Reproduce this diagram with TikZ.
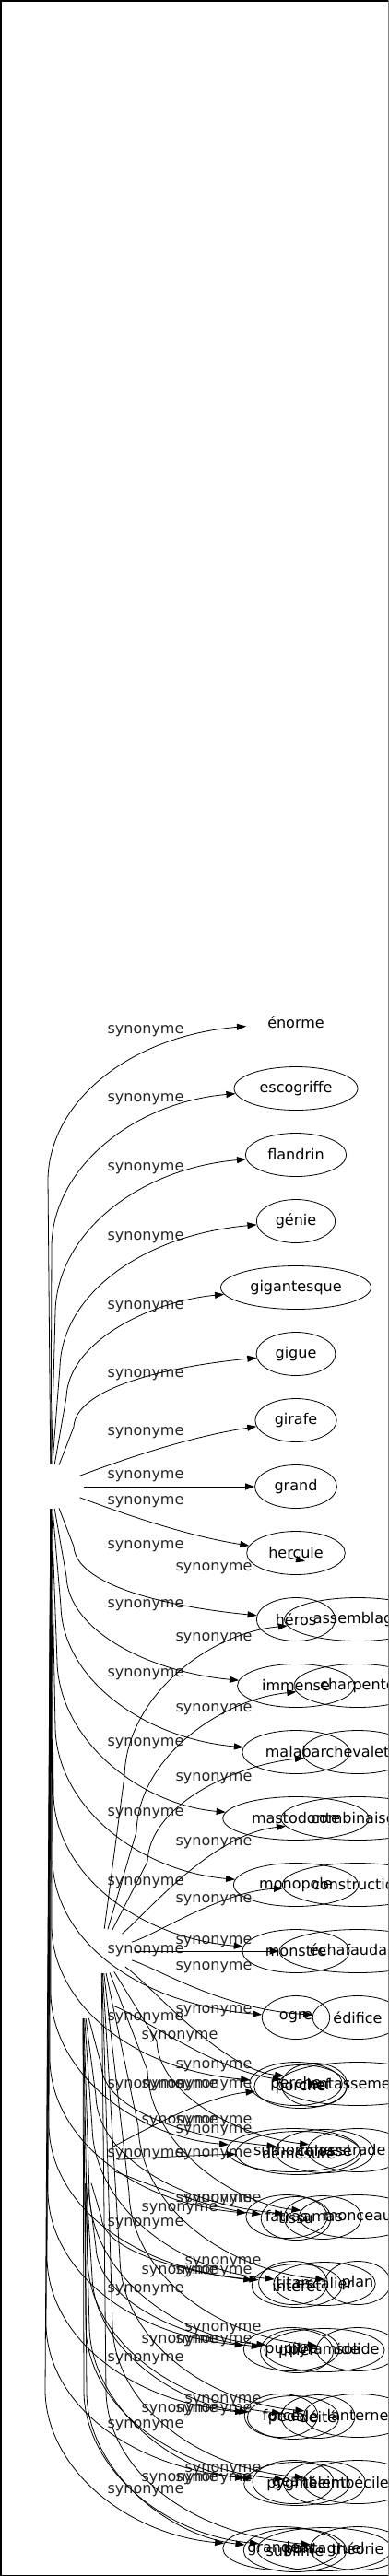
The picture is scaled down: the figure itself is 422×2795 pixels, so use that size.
\documentclass[tikz,border=0pt]{standalone}
\usepackage{fontspec}
\setmainfont{DejaVu Sans}
\usetikzlibrary{arrows.meta,shapes.geometric}
\tikzset{
  wd/.style={ellipse, draw, line width=0.8pt, inner xsep=8pt, inner ysep=0pt, minimum height=47pt, font=\fontsize{16}{19}\selectfont},
  nb/.style={ellipse, inner xsep=8pt, inner ysep=0pt, minimum height=47pt, font=\fontsize{16}{19}\selectfont},
  rootn/.style={ellipse, inner sep=0pt, minimum width=72pt, minimum height=48pt},
  syn/.style={inner sep=0pt, font=\fontsize{16}{19}\selectfont, text=black!85},
  arr/.style={-{Triangle[length=10pt,width=7pt]}, line width=0.8pt},
}
\newcommand\faredge[5]{%
  \pgfmathsetmacro\sg{2*(#5>#4)-1}%
  \pgfmathsetmacro\hh{min(0.55*abs(#5-#4),170)}%
  \pgfmathsetmacro\yb{#5-\sg*\hh}%
  \pgfmathsetmacro\yc{#5-\sg*\hh*0.5}%
  \pgfmathsetmacro\yd{#5-\sg*15}%
  \pgfmathsetmacro\xc{#3+2}%
  \pgfmathsetmacro\xd{#3+90}%
  \draw[arr] (#1) -- (#3,\yb) .. controls (\xc,\yc) and (\xd,\yd) .. (#2);%
}
\newcommand\nearedge[4]{\draw[arr] (#1) .. controls (#3) and (#4) .. (#2);}
\begin{document}
\begin{tikzpicture}[x=1pt,y=-1pt]
\useasboundingbox (0,0) rectangle (422,2795);
\begin{scope}
\clip (0,0) rectangle (422,2795);
% roots (no label shown)
\node[rootn] (A) at (55,1613) {};
\node[rootn] (B) at (110,2117) {};
\node[rootn] (C) at (90,2166) {};
\node[rootn] (D) at (92,2345) {};
% column 1
\node[nb] (c1-0) at (321,1109) {énorme};
\node[wd] (c1-1) at (321,1181) {escogriffe};
\node[wd] (c1-2) at (321,1253) {flandrin};
\node[wd] (c1-3) at (321,1325) {génie};
\node[wd] (c1-4) at (321,1397) {gigantesque};
\node[wd] (c1-5) at (321,1469) {gigue};
\node[wd] (c1-6) at (321,1541) {girafe};
\node[wd] (c1-7) at (321,1613) {grand};
\node[wd] (c1-8) at (321,1685) {hercule};
\node[wd] (c1-9) at (321,1757) {héros};
\node[wd] (c1-10) at (321,1829) {immense};
\node[wd] (c1-11) at (321,1901) {malabar};
\node[wd] (c1-12) at (321,1973) {mastodonte};
\node[wd] (c1-13) at (321,2045) {monopole};
\node[wd] (c1-14) at (321,2117) {monstre};
\node[wd] (c1-15) at (321,2189) {ogre};
\node[wd] (c1-16) at (321,2261) {perche};
\node[wd] (c1-17) at (318,2333) {surhomme};
\node[wd] (c1-18) at (311,2405) {fatras};
\node[wd] (c1-19) at (318,2477) {titan};
\node[wd] (c1-20) at (316,2549) {pupitre};
\node[wd] (c1-21) at (305,2621) {force};
\node[wd] (c1-22) at (318,2693) {géant};
\node[wd] (c1-23) at (305,2765) {grandeur};
% second layer in column 1
\node[wd] (c1b-16) at (326,2264) {porche};
\node[wd] (c1b-17) at (324,2336) {démesuré};
\node[wd] (c1b-18) at (321,2407) {tissu};
\node[wd] (c1b-19) at (322,2480) {intérêt};
\node[wd] (c1b-20) at (322,2551) {pilier};
\node[wd] (c1b-21) at (318,2623) {pédale};
\node[wd] (c1b-22) at (322,2695) {pygmée};
\node[wd] (c1b-23) at (320,2767) {sublime};
% middle nodes
\node[wd] (m-16) at (341,2262) {chef};
\node[wd] (m-17) at (352,2334) {colosse};
\node[wd] (m-18) at (350,2406) {amas};
\node[wd] (m-19) at (352,2478) {escalier};
\node[wd] (m-20) at (352,2550) {pyramide};
\node[wd] (m-21) at (345,2622) {déité};
\node[wd] (m-22) at (352,2694) {talent};
\node[wd] (m-23) at (352,2766) {pantagruel};
% column 2
\node[wd] (c2-9) at (388,1757) {assemblage};
\node[wd] (c2-10) at (388,1829) {charpente};
\node[wd] (c2-11) at (388,1901) {chevalet};
\node[wd] (c2-12) at (388,1973) {combinaison};
\node[wd] (c2-13) at (388,2045) {construction};
\node[wd] (c2-14) at (388,2117) {échafaudage};
\node[wd] (c2-15) at (388,2189) {édifice};
\node[wd] (c2-16) at (388,2261) {entassement};
\node[wd] (c2-17) at (388,2333) {estrade};
\node[wd] (c2-18) at (388,2405) {monceau};
\node[wd] (c2-19) at (388,2477) {plan};
\node[wd] (c2-20) at (388,2549) {solide};
\node[wd] (c2-21) at (388,2621) {lanterne};
\node[wd] (c2-22) at (388,2693) {imbécile};
\node[wd] (c2-23) at (388,2765) {théorie};
% labels
\foreach \yy [count=\k] in {1119,1193,1268,1343,1418,1492,1555,1602,1630,1678,1742,1817,1892,1968,2043,2117,2190,2263,2338,2413,2485,2560,2632,2703}
  \node[syn] (lA\k) at (158,\yy) {synonyme};
\foreach \yy [count=\k] in {1702,1778,1855,1930,2000,2062,2107,2135,2182,2242,2312,2387,2465,2540,2615,2690}
  \node[syn] (lB\k) at (232,\yy) {synonyme};
\foreach \yy [count=\k] in {2210,2263,2302,2397,2465,2540,2615,2690}
  \node[syn] (lC\k) at (195,\yy) {synonyme};
\foreach \yy/\xx [count=\k] in {2263/232,2302/232,2338/232,2387/242,2455/242,2527/242,2605/242,2680/242}
  \node[syn] (lD\k) at (\xx,\yy) {synonyme};
% edges of A
\faredge{A}{c1-0}{52}{1613}{1109}
\faredge{A}{c1-1}{56}{1613}{1181}
\faredge{A}{c1-2}{60}{1613}{1253}
\faredge{A}{c1-3}{65}{1613}{1325}
\faredge{A}{c1-4}{72}{1613}{1397}
\faredge{A}{c1-5}{80}{1613}{1469}
\nearedge{A}{c1-6}{130,1585}{200,1560}
\draw[arr] (A) -- (c1-7);
\nearedge{A}{c1-8}{130,1641}{200,1666}
\faredge{A}{c1-9}{80}{1613}{1757}
\faredge{A}{c1-10}{72}{1613}{1829}
\faredge{A}{c1-11}{66}{1613}{1901}
\faredge{A}{c1-12}{62}{1613}{1973}
\faredge{A}{c1-13}{60}{1613}{2045}
\faredge{A}{c1-14}{58}{1613}{2117}
\faredge{A}{c1-15}{57}{1613}{2189}
\faredge{A}{c1-16}{56}{1613}{2261}
\faredge{A}{c1-17}{55}{1613}{2333}
\faredge{A}{c1-18}{54}{1613}{2405}
\faredge{A}{c1-19}{53}{1613}{2477}
\faredge{A}{c1-20}{52}{1613}{2549}
\faredge{A}{c1-21}{51}{1613}{2621}
\faredge{A}{c1-22}{50}{1613}{2693}
\faredge{A}{c1-23}{49}{1613}{2765}
% edges of B
\coordinate (ph1) at (314,1690);
\coordinate (ph2) at (331,1694);
\draw[arr] (ph1) -- (ph2);
\faredge{B}{c2-9}{135}{2117}{1757}
\faredge{B}{c2-10}{148}{2117}{1829}
\faredge{B}{c2-11}{160}{2117}{1901}
\nearedge{B}{c2-12}{160,2075}{230,1990}
\nearedge{B}{c2-13}{170,2099}{240,2052}
\draw[arr] (B) -- (c2-14);
\nearedge{B}{c2-15}{170,2135}{240,2180}
\nearedge{B}{c2-16}{160,2150}{240,2245}
\faredge{B}{c2-17}{170}{2117}{2333}
\faredge{B}{c2-18}{160}{2117}{2405}
\faredge{B}{c2-19}{150}{2117}{2477}
\faredge{B}{c2-20}{140}{2117}{2549}
\faredge{B}{c2-21}{130}{2117}{2621}
\faredge{B}{c2-22}{122}{2117}{2693}
\faredge{B}{c2-23}{115}{2117}{2765}
% edges of C
\nearedge{C}{m-16}{150,2185}{230,2245}
\faredge{C}{m-17}{110}{2166}{2334}
\faredge{C}{m-18}{104}{2166}{2406}
\faredge{C}{m-19}{100}{2166}{2478}
\faredge{C}{m-20}{97}{2166}{2550}
\faredge{C}{m-21}{95}{2166}{2622}
\faredge{C}{m-22}{93}{2166}{2694}
\faredge{C}{m-23}{91}{2166}{2766}
% edges of D
\nearedge{D}{c1b-16}{150,2315}{220,2275}
\nearedge{D}{c1b-17}{150,2342}{220,2338}
\nearedge{D}{c1b-18}{150,2365}{220,2395}
\faredge{D}{c1b-19}{110}{2345}{2480}
\faredge{D}{c1b-20}{104}{2345}{2551}
\faredge{D}{c1b-21}{100}{2345}{2623}
\faredge{D}{c1b-22}{97}{2345}{2695}
\faredge{D}{c1b-23}{94}{2345}{2767}
\end{scope}
% frame
\draw[line width=1.5pt] (0.75,0.75) rectangle (421.25,2794.25);
\draw[line width=1.5pt, gray] (421.25,0) -- (421.25,2795);
\end{tikzpicture}
\end{document}
